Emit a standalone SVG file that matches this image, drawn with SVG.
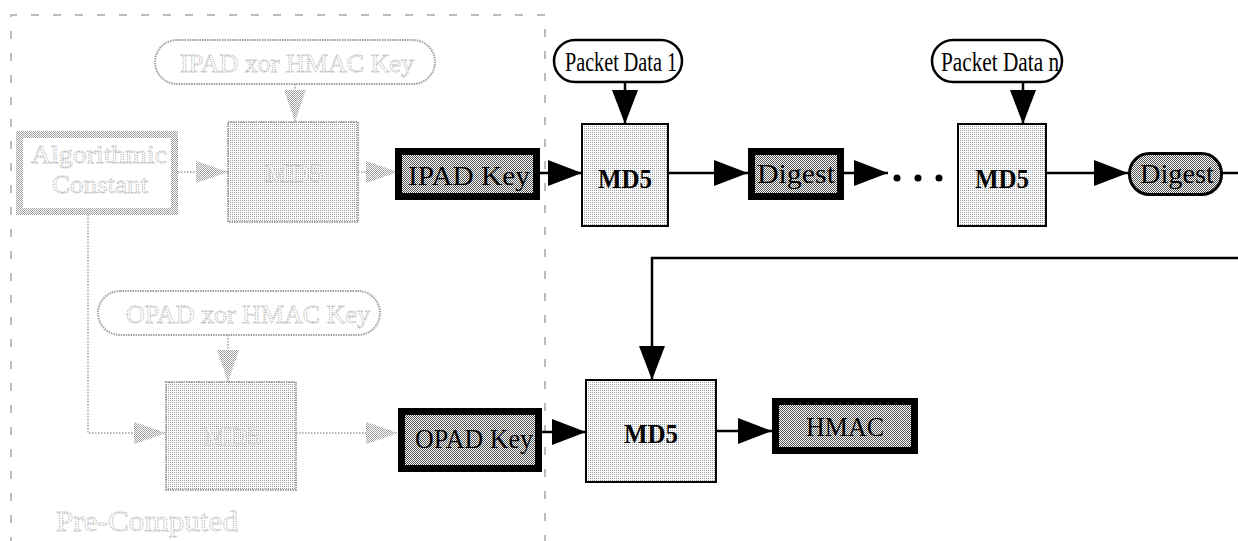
<svg xmlns="http://www.w3.org/2000/svg" width="1238" height="541" viewBox="0 0 1238 541">
  <defs>
    <!-- dithered fills -->
    <pattern id="ditherLight" width="2" height="2" patternUnits="userSpaceOnUse">
      <rect width="2" height="2" fill="#ffffff"/>
      <rect width="1" height="1" fill="#9a9a9a"/>
    </pattern>
    <pattern id="ditherMid" width="2" height="2" patternUnits="userSpaceOnUse">
      <rect width="2" height="2" fill="#ffffff"/>
      <rect width="1" height="1" fill="#555555"/>
      <rect x="1" y="1" width="1" height="1" fill="#555555"/>
    </pattern>
    <pattern id="ditherGray" width="2" height="2" patternUnits="userSpaceOnUse">
      <rect width="2" height="2" fill="#ffffff"/>
      <rect width="1" height="1" fill="#a0a0a0"/>
      <rect x="1" y="1" width="1" height="1" fill="#a0a0a0"/>
    </pattern>
    <marker id="arrowBlack" markerUnits="userSpaceOnUse" markerWidth="36" markerHeight="28" refX="34" refY="13" orient="auto">
      <path d="M0,0 L34,13 L0,26 Z" fill="#000"/>
    </marker>
    <marker id="arrowGray" markerUnits="userSpaceOnUse" markerWidth="34" markerHeight="26" refX="32" refY="11" orient="auto">
      <path d="M0,0 L32,11 L0,22 Z" fill="url(#ditherGray)"/>
    </marker>
    <style>
      .lbl { font-family: "Liberation Serif", "Times New Roman", serif; font-size: 28px; text-anchor: middle; fill: #000; }
      .bold { font-weight: bold; font-size: 27px; }
      .ghost { font-family: "Liberation Serif", "Times New Roman", serif; font-size: 26px; text-anchor: middle; fill: #ffffff; stroke: #a8a8a8; stroke-width: 0.8; stroke-dasharray: 1.2 1; }
      .frame { fill: none; stroke: #a8a8a8; stroke-width: 1.5; stroke-dasharray: 8 14; }
      .ghostPill { fill: #ffffff; stroke: #a0a0a0; stroke-width: 2; stroke-dasharray: 1.5 1; }
      .ghostBox { fill: url(#ditherLight); stroke: #a0a0a0; stroke-width: 2; stroke-dasharray: 1.5 1; }
      .ghostLine { fill: none; stroke: #a0a0a0; stroke-width: 1.5; stroke-dasharray: 1.5 1.5; }
      .md5 { fill: url(#ditherLight); stroke: #000; stroke-width: 2; }
      .key { fill: url(#ditherMid); stroke: #000; stroke-width: 7; }
      .pill { fill: #ffffff; stroke: #000; stroke-width: 2.5; }
      .wire { fill: none; stroke: #000; stroke-width: 2.5; }
    </style>
  </defs>

  <!-- pre-computed region frame -->
  <path class="frame" d="M11,545 V15 H545 V545"/>
  <text id="precomputed-label" class="ghost" x="56" y="531" style="text-anchor:start;font-size:30px" textLength="182" lengthAdjust="spacingAndGlyphs">Pre-Computed</text>

  <!-- connectors -->
  <g id="connectors">
    <line class="ghostLine" x1="295" y1="84" x2="295" y2="122" marker-end="url(#arrowGray)"/>
    <line class="ghostLine" x1="178" y1="172" x2="228" y2="172" marker-end="url(#arrowGray)"/>
    <line class="ghostLine" x1="358" y1="172" x2="398" y2="172" marker-end="url(#arrowGray)"/>
    <polyline class="ghostLine" points="88,215 88,433 166,433" marker-end="url(#arrowGray)"/>
    <line class="ghostLine" x1="228" y1="335" x2="228" y2="382" marker-end="url(#arrowGray)"/>
    <line class="ghostLine" x1="296" y1="433" x2="398" y2="433" marker-end="url(#arrowGray)"/>

    <line class="wire" x1="540" y1="173" x2="582" y2="173" marker-end="url(#arrowBlack)"/>
    <line class="wire" x1="625" y1="82" x2="625" y2="124" marker-end="url(#arrowBlack)"/>
    <line class="wire" x1="668" y1="173" x2="748" y2="173" marker-end="url(#arrowBlack)"/>
    <line class="wire" x1="844" y1="173" x2="888" y2="173" marker-end="url(#arrowBlack)"/>
    <line class="wire" x1="1023" y1="82" x2="1023" y2="124" marker-end="url(#arrowBlack)"/>
    <line class="wire" x1="1046" y1="173" x2="1128" y2="173" marker-end="url(#arrowBlack)"/>
    <line class="wire" x1="1222" y1="173" x2="1238" y2="173"/>
    <polyline class="wire" points="1238,258 652,258 652,380" marker-end="url(#arrowBlack)"/>
    <line class="wire" x1="542" y1="432" x2="586" y2="432" marker-end="url(#arrowBlack)"/>
    <line class="wire" x1="716" y1="431" x2="772" y2="431" marker-end="url(#arrowBlack)"/>
    <!-- ellipsis between rounds -->
    <circle cx="897" cy="178" r="3.5" fill="#000"/>
    <circle cx="918" cy="178" r="3.5" fill="#000"/>
    <circle cx="939" cy="178" r="3.5" fill="#000"/>
  </g>

  <!-- pre-computed nodes -->
  <g id="ipad-xor-key">
    <rect class="ghostPill" x="155" y="40" width="280" height="44" rx="22"/>
    <text class="ghost" x="297" y="72" textLength="234" lengthAdjust="spacingAndGlyphs">IPAD xor HMAC Key</text>
  </g>
  <g id="alg-constant">
    <rect x="19.5" y="134.5" width="155" height="77" fill="#ffffff" stroke="url(#ditherGray)" stroke-width="7"/>
    <text class="ghost" x="99" y="163" textLength="136" lengthAdjust="spacingAndGlyphs">Algorithmic</text>
    <text class="ghost" x="100" y="193" textLength="96" lengthAdjust="spacingAndGlyphs">Constant</text>
  </g>
  <g id="md5-ipad-pre">
    <rect class="ghostBox" x="228" y="122" width="130" height="100"/>
    <text class="ghost" x="294" y="182" textLength="58" lengthAdjust="spacingAndGlyphs">MD5</text>
  </g>
  <g id="opad-xor-key">
    <rect class="ghostPill" x="98" y="291" width="282" height="44" rx="22"/>
    <text class="ghost" x="248" y="323" textLength="244" lengthAdjust="spacingAndGlyphs">OPAD xor HMAC Key</text>
  </g>
  <g id="md5-opad-pre">
    <rect class="ghostBox" x="166" y="382" width="130" height="108"/>
    <text class="ghost" x="232" y="445" textLength="58" lengthAdjust="spacingAndGlyphs">MD5</text>
  </g>

  <!-- keyed hash chain -->
  <g id="ipad-key">
    <rect class="key" x="398.5" y="151.5" width="138" height="45"/>
    <text class="lbl" x="469" y="185" textLength="122" lengthAdjust="spacingAndGlyphs">IPAD Key</text>
  </g>
  <g id="packet-data-1">
    <rect class="pill" x="554" y="40" width="128" height="42" rx="21"/>
    <text class="lbl" x="621" y="71" style="font-size:27px" textLength="112" lengthAdjust="spacingAndGlyphs">Packet Data 1</text>
  </g>
  <g id="md5-1">
    <rect class="md5" x="582" y="124" width="86" height="102"/>
    <text class="lbl bold" x="625" y="188" textLength="54" lengthAdjust="spacingAndGlyphs">MD5</text>
  </g>
  <g id="digest-1">
    <rect class="key" x="751.5" y="151.5" width="89" height="45"/>
    <text class="lbl" x="796" y="183" textLength="78" lengthAdjust="spacingAndGlyphs">Digest</text>
  </g>
  <g id="packet-data-n">
    <rect class="pill" x="932" y="40" width="130" height="42" rx="21"/>
    <text class="lbl" x="1000" y="71" style="font-size:27px" textLength="118" lengthAdjust="spacingAndGlyphs">Packet Data n</text>
  </g>
  <g id="md5-n">
    <rect class="md5" x="958" y="124" width="88" height="102"/>
    <text class="lbl bold" x="1002" y="188" textLength="54" lengthAdjust="spacingAndGlyphs">MD5</text>
  </g>
  <g id="digest-n">
    <rect x="1129.5" y="153.5" width="92" height="41" rx="20" fill="url(#ditherMid)" stroke="#000" stroke-width="3"/>
    <text class="lbl" x="1177" y="183" textLength="74" lengthAdjust="spacingAndGlyphs">Digest</text>
  </g>
  <g id="opad-key">
    <rect class="key" x="401.5" y="411.5" width="137" height="57"/>
    <text class="lbl" x="474" y="448" textLength="118" lengthAdjust="spacingAndGlyphs">OPAD Key</text>
  </g>
  <g id="md5-outer">
    <rect class="md5" x="586" y="380" width="130" height="102"/>
    <text class="lbl bold" x="651" y="443" textLength="54" lengthAdjust="spacingAndGlyphs">MD5</text>
  </g>
  <g id="hmac">
    <rect class="key" x="775.5" y="401.5" width="139" height="49"/>
    <text class="lbl" x="845" y="436" textLength="78" lengthAdjust="spacingAndGlyphs">HMAC</text>
  </g>
</svg>
